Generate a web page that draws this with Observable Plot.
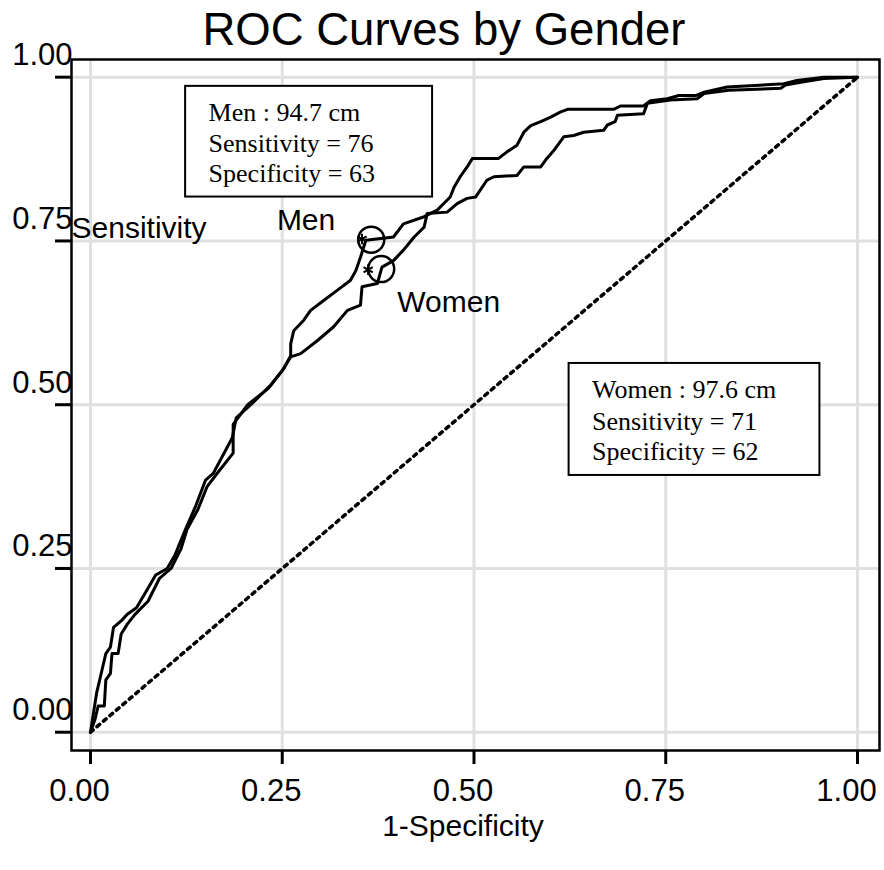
<!DOCTYPE html>
<html>
<head>
<meta charset="utf-8">
<script src="https://cdn.jsdelivr.net/npm/d3@7"></script>
<script src="https://cdn.jsdelivr.net/npm/@observablehq/plot@0.6"></script>
<style>
  body { margin: 0; background: #fff; }
  #wrap { position: relative; width: 884px; height: 870px; overflow: hidden; }
  #title { position: absolute; top: 7px; left: 4px; width: 880px; text-align: center;
           font-family: "Liberation Sans", Arial, sans-serif; font-size: 45.5px; line-height: 45px; color: #000; }
</style>
</head>
<body>
<div id="wrap"><div id="title">ROC Curves by Gender</div></div>
<script>
// ---- data ----
const ticks = [0, 0.25, 0.5, 0.75, 1];

const menFpr = [0,0.004,0.008,0.014,0.020,0.026,0.030,0.040,0.048,0.060,0.070,0.085,0.100,0.110,0.124,0.137,0.150,0.160,0.176,0.185,0.190,0.209,0.235,0.252,0.261,
  0.261,0.265,0.278,0.287,0.304,0.322,0.339,0.346,0.352,0.359,0.395,0.408,0.435,0.452,0.469,0.474,0.482,0.491,0.498,0.532,0.543,0.556,0.565,0.574,0.587,0.600,0.613,0.622,0.682,0.691,0.721,0.730,0.752,0.767,0.789,0.800,0.830,0.904,0.921,0.956,1];
const menTpr = [0,0.030,0.060,0.090,0.120,0.130,0.160,0.170,0.180,0.190,0.210,0.240,0.250,0.270,0.310,0.345,0.385,0.395,0.430,0.450,0.480,0.500,0.530,0.555,0.575,
  0.593,0.613,0.629,0.644,0.659,0.675,0.690,0.705,0.725,0.751,0.756,0.776,0.787,0.797,0.817,0.832,0.848,0.863,0.876,0.876,0.886,0.896,0.916,0.926,0.932,0.939,0.947,0.951,0.951,0.956,0.956,0.964,0.967,0.972,0.972,0.977,0.985,0.990,0.995,1.000,1];

const womenFpr = [0,0.006,0.010,0.018,0.020,0.026,0.028,0.036,0.040,0.048,0.058,0.075,0.090,0.105,0.118,0.126,0.140,0.152,0.165,0.186,0.186,0.205,0.232,0.250,0.261,
  0.274,0.296,0.317,0.335,0.352,0.354,0.374,0.380,0.395,0.408,0.422,0.435,0.439,0.465,0.478,0.491,0.502,0.517,0.526,0.556,0.565,0.587,0.595,0.604,0.617,0.630,0.643,0.669,0.674,0.684,0.687,0.721,0.726,0.756,0.791,0.800,0.832,0.900,0.906,0.930,0.956,1];
const womenTpr = [0,0.020,0.040,0.040,0.080,0.090,0.120,0.120,0.150,0.165,0.180,0.200,0.235,0.250,0.280,0.310,0.340,0.375,0.395,0.426,0.470,0.500,0.525,0.552,0.573,
  0.578,0.598,0.619,0.644,0.652,0.680,0.685,0.710,0.720,0.736,0.756,0.771,0.792,0.794,0.807,0.815,0.817,0.843,0.848,0.850,0.863,0.863,0.876,0.888,0.909,0.911,0.916,0.919,0.927,0.932,0.942,0.944,0.960,0.965,0.967,0.975,0.980,0.983,0.988,0.993,0.998,1];

// optimal cut-points (1-specificity, sensitivity)
const cutGroup = ["Men", "Women"];
const cutFpr = [0.366, 0.379];
const cutTpr = [0.752, 0.707];
const starFpr = [0.354, 0.362];
const starTpr = [0.753, 0.706];

// group labels
const labelText = ["Men", "Women"];
const labelX = [0.243, 0.400];
const labelY = [0.766, 0.642];

// annotation boxes
const boxX1 = [0.124, 0.624], boxX2 = [0.446, 0.951];
const boxY1 = [0.817, 0.392], boxY2 = [0.986, 0.563];
const boxLines = [
  ["Men : 94.7 cm", "Sensitivity = 76", "Specificity = 63"],
  ["Women : 97.6 cm", "Sensitivity = 71", "Specificity = 62"]
];
const boxTextX = [0.154, 0.654];
const boxTextY = [[0.933, 0.886, 0.840], [0.510, 0.462, 0.415]];

// ---- build tables ----
const men = menFpr.map((x, i) => ({x, y: menTpr[i]}));
const women = womenFpr.map((x, i) => ({x, y: womenTpr[i]}));
const cuts = cutGroup.map((g, i) => ({g, x: cutFpr[i], y: cutTpr[i], sx: starFpr[i], sy: starTpr[i]}));
const labels = labelText.map((t, i) => ({t, x: labelX[i], y: labelY[i]}));
const boxes = boxX1.map((x1, i) => ({x1, x2: boxX2[i], y1: boxY1[i], y2: boxY2[i]}));
const boxText = boxLines.flatMap((lines, i) => lines.map((t, j) => ({t, x: boxTextX[i], y: boxTextY[i][j]})));

const fmt = d3.format(".2f");
const blank = () => "";

const chart = Plot.plot({
  width: 884,
  height: 870,
  marginLeft: 71,
  marginRight: 5,
  marginTop: 59,
  marginBottom: 120,
  style: {fontFamily: '"Liberation Sans", Arial, sans-serif', fontSize: "30px", color: "#000", background: "#fff", overflow: "visible"},
  x: {domain: [-0.02477, 1.02868]},
  y: {domain: [-0.0279, 1.027]},
  marks: [
    Plot.gridX(ticks, {stroke: "#e0e0e0", strokeOpacity: 1, strokeWidth: 3}),
    Plot.gridY(ticks, {stroke: "#e0e0e0", strokeOpacity: 1, strokeWidth: 3}),
    Plot.line([{x: 0, y: 0}, {x: 1, y: 1}], {x: "x", y: "y", stroke: "#000", strokeWidth: 3.5, strokeDasharray: "3.5,5"}),
    Plot.line(men, {x: "x", y: "y", stroke: "#000", strokeWidth: 3}),
    Plot.line(women, {x: "x", y: "y", stroke: "#000", strokeWidth: 3}),
    Plot.dot(cuts, {x: "x", y: "y", r: 13, stroke: "#000", strokeWidth: 2.5, fill: "none"}),
    Plot.dot(cuts, {x: "sx", y: "sy", r: 5, symbol: "asterisk", stroke: "#000", strokeWidth: 2}),
    Plot.text(labels, {x: "x", y: "y", text: "t", textAnchor: "start", lineAnchor: "bottom", fontSize: 30, fill: "#000"}),
    Plot.rect(boxes, {x1: "x1", x2: "x2", y1: "y1", y2: "y2", fill: "#fff", stroke: "#000", strokeWidth: 2}),
    Plot.text(boxText, {x: "x", y: "y", text: "t", textAnchor: "start", lineAnchor: "bottom", fontSize: 26, fontFamily: '"Liberation Serif", "Times New Roman", serif', fill: "#000"}),
    Plot.text(["Sensitivity"], {frameAnchor: "left", y: [0.755], textAnchor: "start", lineAnchor: "bottom", fontSize: 30, fill: "#000"}),
    Plot.text(["1-Specificity"], {x: [0.5], frameAnchor: "bottom", textAnchor: "middle", lineAnchor: "bottom", dy: 85, dx: -11, fontSize: 30, fill: "#000"}),
    // x axis: tick marks, then labels (labels sit slightly left of ticks, as in the original)
    Plot.axisX(ticks, {tickSize: 14, strokeWidth: 3, tickFormat: blank, label: null}),
    Plot.axisX(ticks, {tickSize: 0, tickPadding: 28, dx: -11, tickFormat: fmt, fontSize: 31, label: null}),
    // y axis: tick marks, then labels (labels sit above the ticks)
    Plot.axisY(ticks, {tickSize: 16, strokeWidth: 3, tickFormat: blank, label: null}),
    Plot.axisY(ticks, {tickSize: 0, tickPadding: -1, lineAnchor: "bottom", dy: -12, tickFormat: fmt, fontSize: 31, label: null}),
    Plot.frame({stroke: "#000", strokeWidth: 2.5})
  ]
});
document.getElementById("wrap").prepend(chart);
chart.style.position = "absolute";
chart.style.left = "0";
chart.style.top = "0";
document.getElementById("title").style.zIndex = "2";
</script>
</body>
</html>
